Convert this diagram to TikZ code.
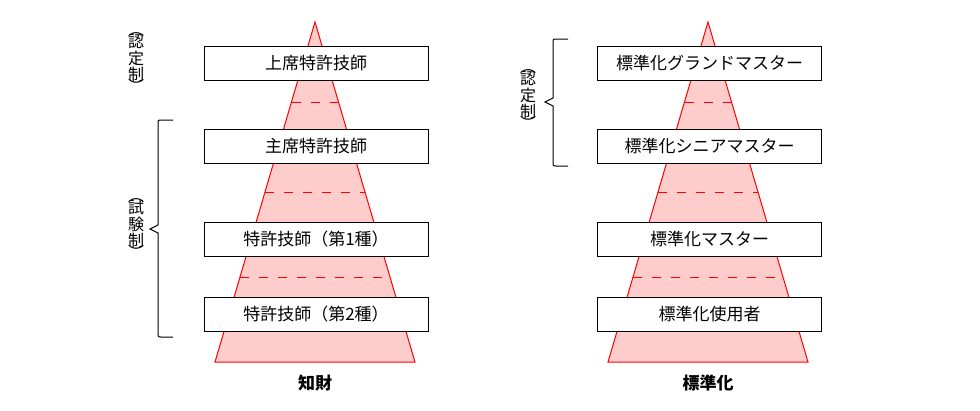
\documentclass[tikz,border=0pt]{standalone}
\usepackage{fontspec}
\setmainfont{Noto Sans CJK JP}
\usetikzlibrary{positioning}
\usepackage{xcolor}
\definecolor{pyramidRed}{RGB}{255, 0, 0}
\definecolor{pyramidPink}{RGB}{255, 204, 204}

\begin{document}
\begin{tikzpicture}[x=1pt, y=-1pt,
    rank/.style={draw=black, fill=white, line width=1pt, minimum width=224pt, minimum height=34pt, inner sep=0pt, font=\fontsize{17}{19}\selectfont},
    pyramid/.style={draw=pyramidRed, fill=pyramidPink, line width=1pt},
    tier/.style={draw=pyramidRed, line width=1pt, dash pattern=on 9pt off 10pt},
    bracket/.style={draw=black, line width=1pt},
    vlabel/.style={align=center, inner sep=0pt, font=\fontsize{16}{16.5}\selectfont},
    caption/.style={font=\bfseries\fontsize{17}{19}\selectfont}]
  \useasboundingbox (0,0) rectangle (980,410);

  % left pyramid: ip
  \draw[pyramid] (315,22) -- (415,362) -- (215,362) -- cycle;
  \draw[tier] (291.5,102) -- (338.5,102);
  \draw[tier] (265,192) -- (365,192);
  \draw[tier] (240,277) -- (390,277);
  \node[rank] (ipChief) at (316,63) {上席特許技師};
  \node[rank] (ipSenior) at (316,146) {主席特許技師};
  \node[rank] (ipFirst) at (316,239.5) {特許技師（第1種）};
  \node[rank] (ipSecond) at (316,314) {特許技師（第2種）};
  \node[caption] (ipCap) at (315,383) {知財};

  \node[vlabel] (ipCert) at (136,63) {︵\\[-4.5pt]認\\定\\制\\[-4.5pt]︶};
  \node[vlabel] (ipExam) at (136,229) {︵\\[-4.5pt]試\\験\\制\\[-4.5pt]︶};
  \draw[bracket] (173,120) -- (161,120) .. controls (158,120) .. (158,123) -- (158,225)
    -- (150,229) -- (158,233) -- (158,334) .. controls (158,337) .. (161,337) -- (173,337);

  % right pyramid: standardization
  \draw[pyramid] (708,22) -- (808,362) -- (608,362) -- cycle;
  \draw[tier] (684.5,102) -- (731.5,102);
  \draw[tier] (658,192) -- (758,192);
  \draw[tier] (633,277) -- (783,277);
  \node[rank] (stGrand) at (709.5,63) {標準化グランドマスター};
  \node[rank] (stSenior) at (709.5,146) {標準化シニアマスター};
  \node[rank] (stMaster) at (709.5,239.5) {標準化マスター};
  \node[rank] (stUser) at (709.5,314) {標準化使用者};
  \node[caption] (stCap) at (708,383) {標準化};

  \node[vlabel] (stCert) at (528,100) {︵\\[-4.5pt]認\\定\\制\\[-4.5pt]︶};
  \draw[bracket] (568,39) -- (556,39) .. controls (553,39) .. (553,42) -- (553,98)
    -- (545,102) -- (553,106) -- (553,163) .. controls (553,166) .. (556,166) -- (568,166);
\end{tikzpicture}
\end{document}
